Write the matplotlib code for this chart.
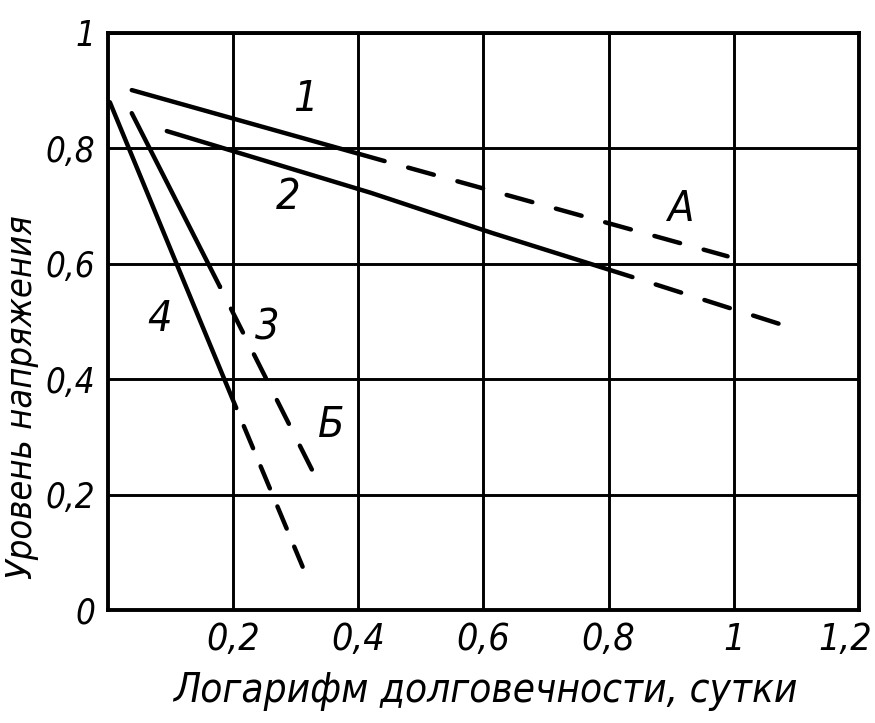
import matplotlib
matplotlib.use("Agg")
import matplotlib.pyplot as plt
from matplotlib.ticker import FixedLocator, FixedFormatter
from matplotlib.transforms import offset_copy

# ---- data ----
x_ticks = [0.2, 0.4, 0.6, 0.8, 1.0, 1.2]
x_tick_labels = ["0,2", "0,4", "0,6", "0,8", "1", "1,2"]
y_ticks = [0, 0.2, 0.4, 0.6, 0.8, 1.0]
y_tick_labels = ["0", "0,2", "0,4", "0,6", "0,8", "1"]

c1_solid_x = [0.038, 0.442]
c1_solid_y = [0.901, 0.778]
c1_dash_x = [0.442, 0.990]
c1_dash_y = [0.778, 0.613]

c2_solid_x = [0.094, 0.420, 0.615, 0.838]
c2_solid_y = [0.830, 0.723, 0.653, 0.577]
c2_dash_x = [0.838, 1.078]
c2_dash_y = [0.577, 0.494]

c3_solid_x = [0.038, 0.179]
c3_solid_y = [0.861, 0.560]
c3_dash_x = [0.179, 0.332]
c3_dash_y = [0.560, 0.230]

c4_solid_x = [0.003, 0.105, 0.205]
c4_solid_y = [0.880, 0.612, 0.350]
c4_dash_x = [0.205, 0.311]
c4_dash_y = [0.350, 0.075]

labels_text = ["1", "2", "А", "3", "4", "Б"]
labels_x = [0.315, 0.288, 0.914, 0.255, 0.083, 0.356]
labels_y = [0.885, 0.715, 0.695, 0.490, 0.505, 0.320]

xlabel = "Логарифм долговечности, сутки"
ylabel = "Уровень напряжения"

# ---- styling ----
font = ["DejaVu Sans"]

fig = plt.figure(figsize=(8.75, 7.23), dpi=100)
ax = fig.add_axes([0.1234, 0.1563, 0.9817 - 0.1234, 0.9544 - 0.1563])
ax.set_xlim(0, 1.2)
ax.set_ylim(0, 1.0)

ax.xaxis.set_major_locator(FixedLocator(x_ticks))
ax.xaxis.set_major_formatter(FixedFormatter(x_tick_labels))
ax.yaxis.set_major_locator(FixedLocator(y_ticks))
ax.yaxis.set_major_formatter(FixedFormatter(y_tick_labels))
ax.tick_params(length=0)
ax.tick_params(axis="x", pad=9)
ax.tick_params(axis="y", pad=9)
for t in ax.get_xticklabels():
    t.set_family(font)
    t.set_style("italic")
    t.set_stretch("condensed")
    t.set_fontsize(27)
for t in ax.get_yticklabels():
    t.set_family(font)
    t.set_style("italic")
    t.set_stretch("condensed")
    t.set_fontsize(25)
# last x label sits at the right edge; nudge it so it stays inside
last = ax.get_xticklabels()[-1]
last.set_horizontalalignment("right")
last.set_transform(offset_copy(last.get_transform(), fig=fig, x=13, y=0, units="dots"))

ax.grid(True, color="black", linewidth=2.1)
for s in ax.spines.values():
    s.set_linewidth(2.8)
    s.set_color("black")
ax.set_axisbelow(True)

lw = 3.2
solid_kw = dict(color="black", linewidth=lw, solid_capstyle="round")
dash_kw = dict(color="black", linewidth=lw, dash_capstyle="round")
pat = (6.0, 5.5)
pat4 = (5.4, 4.4)

ax.plot(c1_solid_x, c1_solid_y, **solid_kw)
ax.plot(c1_dash_x, c1_dash_y, linestyle=(pat[0], pat), **dash_kw)
ax.plot(c2_solid_x, c2_solid_y, **solid_kw)
ax.plot(c2_dash_x, c2_dash_y, linestyle=(pat[0], pat), **dash_kw)
ax.plot(c3_solid_x, c3_solid_y, **solid_kw)
ax.plot(c3_dash_x, c3_dash_y, linestyle=(pat[0], pat), **dash_kw)
ax.plot(c4_solid_x, c4_solid_y, **solid_kw)
ax.plot(c4_dash_x, c4_dash_y, linestyle=(pat4[0], pat4), **dash_kw)

for t, x, y in zip(labels_text, labels_x, labels_y):
    ax.text(x, y, t, family=font, style="italic", stretch="condensed",
            fontsize=31, ha="center", va="center", color="black")

ax.set_xlabel(xlabel, family=font, style="italic", stretch="condensed", fontsize=29)
ax.set_ylabel(ylabel, family=font, style="italic", stretch="condensed", fontsize=26)
ax.xaxis.label.set_va("center")
ax.yaxis.label.set_va("center")
ax.yaxis.label.set_rotation_mode("anchor")
ax.xaxis.set_label_coords(0.503, -0.141)
ax.yaxis.set_label_coords(-0.1145, 0.369)

fig.savefig("out.png", dpi=100)
